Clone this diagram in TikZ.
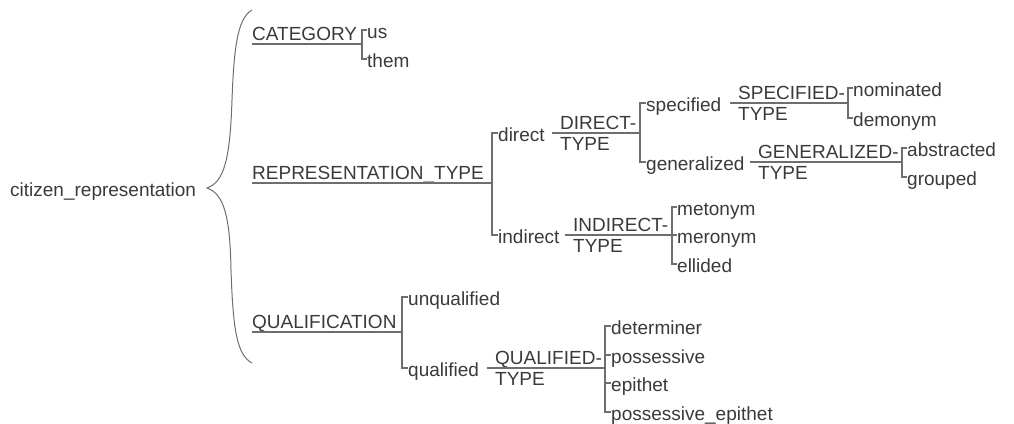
\documentclass[tikz,border=0pt]{standalone}
\usepackage{fontspec}
\setmainfont{Liberation Sans}
\usepackage{tikz}
\definecolor{linegray}{HTML}{6E6E6E}
\definecolor{textgray}{HTML}{3A3A3A}

\begin{document}
\begin{tikzpicture}[x=1pt, y=-1pt,
      every node/.style={text=textgray, font=\fontsize{19}{21}\selectfont},
      opt/.style={anchor=west, inner sep=0pt, text height=16pt, text depth=0pt},
      sys/.style={anchor=south west, inner sep=0pt, text height=14pt, text depth=3pt},
      typ/.style={anchor=north west, inner sep=0pt, text height=14pt, text depth=0pt},
      net/.style={draw=linegray, line width=1.3pt}]
  \useasboundingbox (0,0) rectangle (1014,423);

  % root and the brace
  \node[opt] (root) at (10,188) {citizen\_representation};
  \draw[linegray, line width=1pt] (252,10) .. controls (238,18) and (234,45) .. (232,100)
      .. controls (230,160) and (224,182) .. (207,188)
      .. controls (224,194) and (230,216) .. (231,270)
      .. controls (233,330) and (237,355) .. (252,363);

  % top level systems
  \node[sys] (cat) at (252,44) {CATEGORY};
  \node[sys] (rt) at (252,183) {REPRESENTATION\_TYPE};
  \node[sys] (qual) at (252,332) {QUALIFICATION};

  \coordinate (catbar) at (362,44);
  \coordinate (rtbar) at (492,183);
  \coordinate (qbar) at (402,332);

  \node[opt] (us) at (367,30) {us};
  \node[opt] (them) at (367,59) {them};
  \node[opt] (direct) at (498,133) {direct};
  \node[opt] (indirect) at (498,235) {indirect};
  \node[opt] (unqual) at (408,297) {unqualified};
  \node[opt] (qualif) at (408,368) {qualified};

  % sub systems
  \node[sys] (dt) at (560,133) {DIRECT-};
  \node[typ] (dtb) at (560,136) {TYPE};
  \node[sys] (it) at (573,235) {INDIRECT-};
  \node[typ] (itb) at (573,238) {TYPE};
  \node[sys] (st) at (738,103) {SPECIFIED-};
  \node[typ] (stb) at (738,106) {TYPE};
  \node[sys] (gt) at (758,162) {GENERALIZED-};
  \node[typ] (gtb) at (758,165) {TYPE};
  \node[sys] (qt) at (495,368) {QUALIFIED-};
  \node[typ] (qtb) at (495,371) {TYPE};

  \coordinate (dtbar) at (640,133);
  \coordinate (itbar) at (672,235);
  \coordinate (stbar) at (848,103);
  \coordinate (gtbar) at (902,162);
  \coordinate (qtbar) at (605,368);

  \node[opt] (spec) at (646,103) {specified};
  \node[opt] (gen) at (646,162) {generalized};
  \node[opt] (nom) at (853,88) {nominated};
  \node[opt] (dem) at (853,118) {demonym};
  \node[opt] (abs) at (907,148) {abstracted};
  \node[opt] (grp) at (907,177) {grouped};
  \node[opt] (meto) at (677,207) {metonym};
  \node[opt] (mero) at (677,235) {meronym};
  \node[opt] (elli) at (677,264) {ellided};
  \node[opt] (det) at (611,326) {determiner};
  \node[opt] (poss) at (611,355) {possessive};
  \node[opt] (epi) at (611,383) {epithet};
  \node[opt] (posepi) at (611,412) {possessive\_epithet};

  % entry lines
  \foreach \l/\b in {cat/catbar, rt/rtbar, qual/qbar}
    \draw[net] (\l.south west) -- (\b);
  \foreach \l/\b in {dt/dtbar, it/itbar, st/stbar, gt/gtbar, qt/qtbar}
    \draw[net] ([xshift=-8pt]\l.south west) -- (\b);

  % bars with first and last option
  \foreach \t/\b/\e in {us/catbar/them, direct/rtbar/indirect, unqual/qbar/qualif,
                        spec/dtbar/gen, nom/stbar/dem, abs/gtbar/grp,
                        meto/itbar/elli, det/qtbar/posepi}
    \draw[net] (\t.west) -| (\b) |- (\e.west);

  % middle options
  \foreach \o/\b in {mero/itbar, poss/qtbar, epi/qtbar}
    \draw[net] (\o.west) -- (\o.west -| \b);
\end{tikzpicture}
\end{document}
